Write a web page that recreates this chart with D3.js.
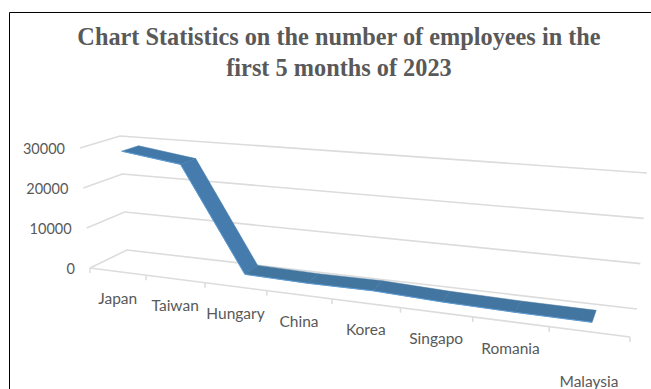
<!DOCTYPE html>
<html>
<head>
<meta charset="utf-8">
<script src="https://cdn.jsdelivr.net/npm/d3@7/dist/d3.min.js"></script>
<style>
html,body{margin:0;padding:0;background:#fff;overflow:hidden}
svg{display:block}
</style>
</head>
<body>
<script>
const titleLines = ["Chart Statistics on the number of employees in the", "first 5 months of 2023"];
const categories = ["Japan", "Taiwan", "Hungary", "China", "Korea", "Singapo", "Romania", "Malaysia"];
const employees = [28700, 26500, 1300, 1000, 1100, 500, 200, 100];
const labelRows = [0, 0, 0, 0, 0, 0, 0, 1];
const valueTicks = [0, 10000, 20000, 30000];

const width = 651, height = 389;
const svg = d3.select("body").append("svg").attr("width", width).attr("height", height);

// Box corners of the pseudo-3D plot: [front, back] x [floor, top]
const leftFace  = { floorFront: [90, 268],  floorBack: [127, 250], topFront: [80, 148],  topBack: [120, 136] };
const rightFace = { floorFront: [630, 337], floorBack: [637, 309], topFront: [640, 187], topBack: [647, 173] };

const catScale = d3.scaleLinear().domain([0, categories.length]).range([0, 1]);
const valueScale = d3.scaleLinear().domain([0, 30000]).range([0, 1]);
const depthScale = d3.scaleLinear().domain([0, 1]).range([0, 1]);

// Foreshortening along the category axis: slots widen toward the viewer's right
const foreshorten = 1.232;
const along = t => { const u = catScale(t); return u / (u + foreshorten * (1 - u)); };

const mix = (a, b, k) => [a[0] + (b[0] - a[0]) * k, a[1] + (b[1] - a[1]) * k];
function faceAt(face, d, v) {
  const floor = mix(face.floorFront, face.floorBack, d);
  const top = mix(face.topFront, face.topBack, d);
  return mix(floor, top, v);
}
function project(t, depth, value) {
  const d = depthScale(depth), v = valueScale(value);
  return mix(faceAt(leftFace, d, v), faceAt(rightFace, d, v), along(t));
}

const line = d3.line();
const greyLine = "#dcdcdc";

// Gridlines: side wall then back wall at each tick value
svg.append("g").selectAll("path").data(valueTicks).join("path")
  .attr("d", v => line([project(0, 0, v), project(0, 1, v), project(categories.length, 1, v)]))
  .attr("fill", "none").attr("stroke", greyLine).attr("stroke-width", 1.6);

// Category axis along the front of the floor, with downward ticks
svg.append("path")
  .attr("d", line([project(0, 0, 0), project(categories.length, 0, 0)]))
  .attr("fill", "none").attr("stroke", greyLine).attr("stroke-width", 1.6);
svg.append("g").selectAll("path").data(d3.range(categories.length + 1)).join("path")
  .attr("d", t => { const p = project(t, 0, 0); return line([p, [p[0], p[1] + 5]]); })
  .attr("stroke", greyLine).attr("stroke-width", 1.5);

// Ribbon: one quad per pair of neighbouring categories
const ribbonFront = 0.33, ribbonBack = 0.77;
const segColours = ["#4379a9", "#457cad", "#43769f", "#43769f", "#42759f", "#42759f", "#42759f"];
const ribbon = svg.append("g");
d3.pairs(employees.map((v, i) => ({ v, t: i + 0.5 }))).forEach(([a, b], i) => {
  ribbon.append("path")
    .attr("d", line([
      project(a.t, ribbonFront, a.v), project(a.t, ribbonBack, a.v),
      project(b.t, ribbonBack, b.v), project(b.t, ribbonFront, b.v)
    ]) + "Z")
    .attr("fill", segColours[i]).attr("stroke", segColours[i]).attr("stroke-width", 0.5);
});
// Lighter lip along the ribbon's lower edge
ribbon.append("path")
  .attr("d", line(employees.map((v, i) => project(i + 0.5, ribbonFront, v))))
  .attr("fill", "none").attr("stroke", "#5b9bd5").attr("stroke-width", 1);

const sans = "Lato, 'Open Sans', sans-serif";

// Value labels sit just left of the front wall edge
svg.append("g").selectAll("text").data(valueTicks).join("text")
  .attr("x", v => project(0, 0, v)[0] - 15)
  .attr("y", v => project(0, 0, v)[1] + 5.5)
  .attr("text-anchor", "end").attr("font-family", sans).attr("font-size", 14.5)
  .attr("fill", "#595959").text(v => v);

// Category labels, with the last one dropped to a second row
svg.append("g").selectAll("text").data(categories).join("text")
  .attr("x", (c, i) => project(i + 0.5, 0, 0)[0])
  .attr("y", (c, i) => project(i + 0.5, 0, 0)[1] + 32 + labelRows[i] * 23)
  .attr("text-anchor", "middle").attr("font-family", sans).attr("font-size", 15.5)
  .attr("fill", "#595959").text(c => c);

// Title
svg.append("g").selectAll("text").data(titleLines).join("text")
  .attr("x", 339).attr("y", (d, i) => 45 + i * 30.5)
  .attr("text-anchor", "middle").attr("font-family", "'Liberation Serif', serif")
  .attr("font-weight", "bold").attr("font-size", 24.3).attr("fill", "#595959").text(d => d);

// Frame around the chart, running off the right and bottom of the page
svg.append("path")
  .attr("d", line([[9.5, height], [9.5, 12.5], [width, 12.5]]))
  .attr("fill", "none").attr("stroke", "#000").attr("stroke-width", 1);
</script>
</body>
</html>
